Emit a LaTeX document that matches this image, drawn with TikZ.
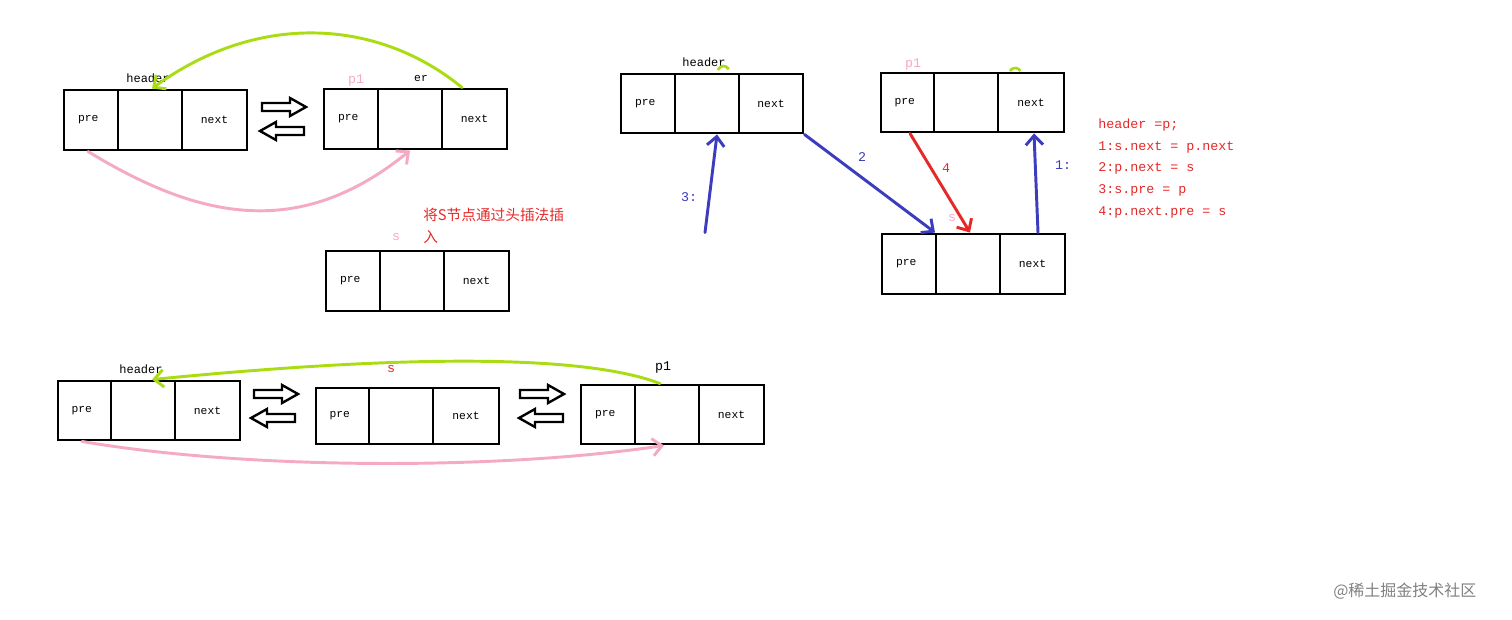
\documentclass[tikz,border=0pt]{standalone}
\usepackage{fontspec}
\setmonofont{Liberation Mono}
\newfontfamily\cjk{Noto Sans CJK SC}
\usetikzlibrary{fit,arrows.meta}
\definecolor{lgreen}{RGB}{170,220,20}
\definecolor{lpink}{RGB}{245,170,195}
\definecolor{lblue}{RGB}{60,60,190}
\definecolor{lred}{RGB}{230,40,40}
\tikzset{
 cell/.style={draw=black,line width=2.2pt,inner sep=0pt},
 txt/.style={font=\ttfamily\fontsize{8.5}{10}\selectfont,inner sep=0pt},
 code/.style={font=\ttfamily\fontsize{10}{12}\selectfont,text=lred,anchor=west,inner sep=0pt},
 hollow/.style={draw=black,line width=1.8pt,fill=white},
 hand/.style={line width=2.2pt,line cap=round,-{Straight Barb[length=7pt,width=13pt,line width=2.2pt]}},
}
\newcommand\llbox[7]{% name x1 x2 x3 x4 y1 y2
 \node[cell,fit={(#2,#6) (#3,#7)}] (#1a) {};
 \node[cell,fit={(#3,#6) (#4,#7)}] (#1b) {};
 \node[cell,fit={(#4,#6) (#5,#7)}] (#1c) {};
 \node[txt] at ([xshift=-2pt]#1a.center) {pre};
 \node[txt] at (#1c.center) {next};}
\newcommand\harrow[3]{\draw[hollow,shift={(#1,#2)},xscale=#3] (-22,-4)--(6,-4)--(6,-9)--(22,0)--(6,9)--(6,4)--(-22,4)--cycle;}
\begin{document}
\begin{tikzpicture}[x=0.75pt,y=-0.75pt]
\useasboundingbox (0,0) rectangle (1512,619);
% top-left
\llbox{A}{64}{118}{182}{247}{90}{150}
\llbox{B}{324}{378}{442}{507}{89}{149}
\llbox{S}{326}{380}{444}{509}{251}{311}
\node[txt,font=\ttfamily\fontsize{9}{10}\selectfont] (hA) at (148,78) {header};
\node[txt,text=lpink,font=\ttfamily\fontsize{10}{10}\selectfont] (pB) at (356,80) {p1};
\node[txt] (erB) at (421,78) {er};
\node[txt,text=lpink,font=\ttfamily\fontsize{10}{10}\selectfont] (sS) at (396,237) {s};
\node[anchor=west,inner sep=0pt,text=lred,font=\cjk\fontsize{11}{13}\selectfont] (cn1) at (423,215) {将S节点通过头插法插};
\node[anchor=west,inner sep=0pt,text=lred,font=\cjk\fontsize{11}{13}\selectfont] (cn2) at (423,237) {入};
\draw[hand,lgreen] (462,0 |- Bc.north) .. controls (380,20) and (260,10) .. (152,0 |- Ab.north);
\draw[hand,lpink] (88,0 |- Aa.south) .. controls (200,220) and (300,240) .. (410,0 |- Bb.south);
\harrow{284}{107}{1}
\harrow{282}{131}{-1}
% top-right
\llbox{C}{621}{675}{739}{803}{74}{133}
\llbox{D}{881}{934}{998}{1064}{73}{132}
\llbox{E}{882}{936}{1000}{1065}{234}{294}
\node[txt,font=\ttfamily\fontsize{9}{10}\selectfont] (hC) at (704,62) {header};
\node[txt,text=lpink,font=\ttfamily\fontsize{10}{10}\selectfont] (pD) at (913,64) {p1};
\node[txt,text=lpink,font=\ttfamily\fontsize{10}{10}\selectfont] (sE) at (952,218) {s};
\draw[lgreen,line width=2pt] (718,70) arc (200:330:6);
\draw[lgreen,line width=2pt] (1010,71) arc (210:330:6);
\draw[hand,lblue] (705,0 |- Ea.north) -- (717,0 |- Cb.south);
\draw[hand,lblue] (Cc.south east) -- (935,0 |- Eb.north);
\draw[hand,lred] (910,0 |- Da.south) -- (970,0 |- Eb.north);
\draw[hand,lblue] (1038,0 |- Ec.north) -- (1034,0 |- Dc.south);
\node[txt,text=lblue,font=\ttfamily\fontsize{10}{10}\selectfont] (l2) at (862,157) {2};
\node[txt,text=lred,font=\ttfamily\fontsize{10}{10}\selectfont] (l4) at (946,168) {4};
\node[txt,text=lblue,font=\ttfamily\fontsize{10}{10}\selectfont] (l1) at (1063,165) {1:};
\node[txt,text=lblue,font=\ttfamily\fontsize{10}{10}\selectfont] (l3) at (689,197) {3:};
\node[code] (c0) at (1098,125) {header =p;};
\node[code] (c1) at (1098,147) {1:s.next = p.next};
\node[code] (c2) at (1098,168) {2:p.next = s};
\node[code] (c3) at (1098,190) {3:s.pre = p};
\node[code] (c4) at (1098,212) {4:p.next.pre = s};
% bottom
\llbox{F}{58}{111}{175}{240}{381}{440}
\llbox{G}{316}{369}{433}{499}{388}{444}
\llbox{H}{581}{635}{699}{764}{385}{444}
\node[txt,font=\ttfamily\fontsize{9}{10}\selectfont] (hF) at (141,369) {header};
\node[txt,text=lred,font=\ttfamily\fontsize{10}{10}\selectfont] (sG) at (391,369) {s};
\node[txt,font=\ttfamily\fontsize{10}{10}\selectfont] (pH) at (663,367) {p1};
\draw[hand,lgreen] (660,0 |- Hb.north) .. controls (560,345) and (300,365) .. (152,0 |- Fb.north);
\draw[hand,lpink] (82,0 |- Fa.south) .. controls (250,470) and (500,470) .. (664,0 |- Hb.south);
\harrow{276}{394}{1}
\harrow{273}{418}{-1}
\harrow{542}{394}{1}
\harrow{541}{418}{-1}
\node[anchor=west,inner sep=0pt,text=gray,font=\cjk\fontsize{12}{14}\selectfont] (wm) at (1333,591) {@稀土掘金技术社区};
\end{tikzpicture}
\end{document}
